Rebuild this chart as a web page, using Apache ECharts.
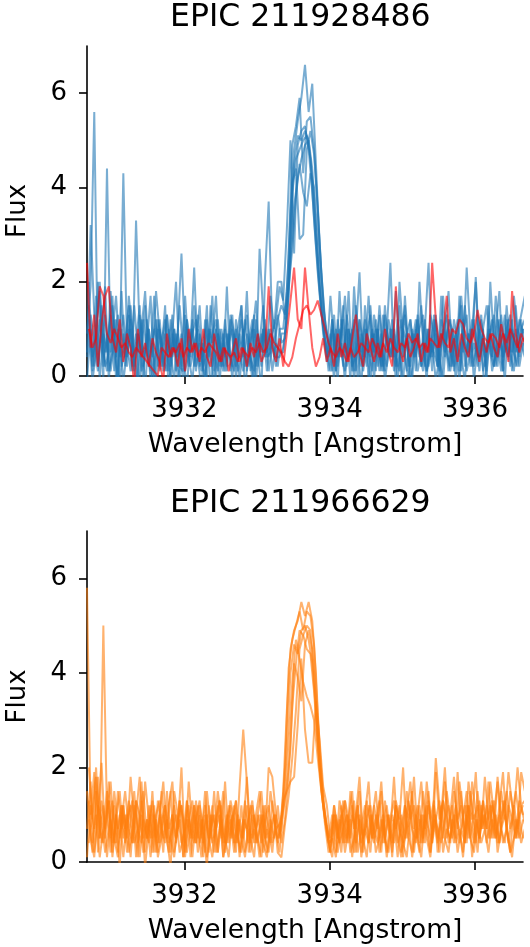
<!DOCTYPE html>
<html>
<head>
<meta charset="utf-8">
<script src="https://cdn.jsdelivr.net/npm/echarts@6/dist/echarts.min.js"></script>
<style>
  html, body { margin: 0; padding: 0; background: #fff; }
  #chart { width: 530px; height: 947px; }
</style>
</head>
<body>
<div id="chart"></div>
<script>
// Wavelength grids of the extracted Ca II K spectra [Angstrom];
// alternate epochs were resampled half a pixel apart.
const wavelengthA = [
  3930.66, 3930.71, 3930.76, 3930.81, 3930.86, 3930.91, 3930.96, 3931.01, 3931.06, 3931.11,
  3931.16, 3931.21, 3931.26, 3931.31, 3931.36, 3931.41, 3931.46, 3931.51, 3931.56, 3931.61,
  3931.66, 3931.71, 3931.76, 3931.81, 3931.86, 3931.91, 3931.96, 3932.01, 3932.06, 3932.11,
  3932.16, 3932.21, 3932.26, 3932.31, 3932.36, 3932.41, 3932.46, 3932.51, 3932.56, 3932.61,
  3932.66, 3932.71, 3932.76, 3932.81, 3932.86, 3932.91, 3932.96, 3933.01, 3933.06, 3933.11,
  3933.16, 3933.21, 3933.26, 3933.31, 3933.36, 3933.41, 3933.46, 3933.51, 3933.56, 3933.61,
  3933.66, 3933.71, 3933.76, 3933.81, 3933.86, 3933.91, 3933.96, 3934.01, 3934.06, 3934.11,
  3934.16, 3934.21, 3934.26, 3934.31, 3934.36, 3934.41, 3934.46, 3934.51, 3934.56, 3934.61,
  3934.66, 3934.71, 3934.76, 3934.81, 3934.86, 3934.91, 3934.96, 3935.01, 3935.06, 3935.11,
  3935.16, 3935.21, 3935.26, 3935.31, 3935.36, 3935.41, 3935.46, 3935.51, 3935.56, 3935.61,
  3935.66, 3935.71, 3935.76, 3935.81, 3935.86, 3935.91, 3935.96, 3936.01, 3936.06, 3936.11,
  3936.16, 3936.21, 3936.26, 3936.31, 3936.36, 3936.41, 3936.46, 3936.51, 3936.56, 3936.61,
  3936.66
];
const wavelengthB = [
  3930.685, 3930.735, 3930.785, 3930.835, 3930.885, 3930.935, 3930.985, 3931.035, 3931.085, 3931.135,
  3931.185, 3931.235, 3931.285, 3931.335, 3931.385, 3931.435, 3931.485, 3931.535, 3931.585, 3931.635,
  3931.685, 3931.735, 3931.785, 3931.835, 3931.885, 3931.935, 3931.985, 3932.035, 3932.085, 3932.135,
  3932.185, 3932.235, 3932.285, 3932.335, 3932.385, 3932.435, 3932.485, 3932.535, 3932.585, 3932.635,
  3932.685, 3932.735, 3932.785, 3932.835, 3932.885, 3932.935, 3932.985, 3933.035, 3933.085, 3933.135,
  3933.185, 3933.235, 3933.285, 3933.335, 3933.385, 3933.435, 3933.485, 3933.535, 3933.585, 3933.635,
  3933.685, 3933.735, 3933.785, 3933.835, 3933.885, 3933.935, 3933.985, 3934.035, 3934.085, 3934.135,
  3934.185, 3934.235, 3934.285, 3934.335, 3934.385, 3934.435, 3934.485, 3934.535, 3934.585, 3934.635,
  3934.685, 3934.735, 3934.785, 3934.835, 3934.885, 3934.935, 3934.985, 3935.035, 3935.085, 3935.135,
  3935.185, 3935.235, 3935.285, 3935.335, 3935.385, 3935.435, 3935.485, 3935.535, 3935.585, 3935.635,
  3935.685, 3935.735, 3935.785, 3935.835, 3935.885, 3935.935, 3935.985, 3936.035, 3936.085, 3936.135,
  3936.185, 3936.235, 3936.285, 3936.335, 3936.385, 3936.435, 3936.485, 3936.535, 3936.585, 3936.635,
  3936.685
];

const xTicks = [3932, 3934, 3936];
const yTicks = [0, 2, 4, 6];

// EPIC 211928486 — active-state spectra (blue)
const star1_b1 = [
  0.9, 1.9, 5.6, 0.2, 1.5, 0.5, 1.0, 1.7, -0.1, 0.7,
  1.3, 0.4, 1.0, 0.1, 0.9, 0.5, 1.5, 0.2, 0.7, -0.1,
  1.0, 0.4, 0.1, 1.2, 0.5, 0.9, 0.2, 1.3, 0.4, -0.1,
  0.7, 1.5, 0.2, 0.5, 1.0, 0.1, 0.9, 0.4, 1.2, 0.5,
  0.2, 1.0, -0.1, 0.7, 1.3, 0.4, 0.1, 0.9, 0.5, 1.2,
  0.4, 0.9, 0.2, 1.0, 1.0, 1.8, 3.5, 4.8, 5.4, 5.9,
  6.6, 5.6, 6.2, 4.5, 2.8, 1.5, 0.9, 0.5, 1.3, 0.2,
  0.9, 1.7, 0.4, 1.0, 0.1, 1.2, 0.7, 0.2, 1.5, 0.5,
  1.0, 0.1, 1.3, 0.7, 0.4, 1.8, 0.5, -0.1, 0.9, 1.2,
  0.4, 0.7, 1.5, 0.2, 1.0, 0.5, 1.2, 0.1, 0.9, 1.3,
  0.5, 0.2, 1.0, 1.7, 0.7, 0.4, 1.2, 0.9, 0.1, 1.0,
  1.5, 0.5, 0.2, 1.2, 0.7, 1.3, 0.4, 1.0, 0.5, 1.2,
  0.9
];
const star1_b2 = [
  2.0, 0.1, 1.0, 1.8, -0.1, 4.4, 0.5, 1.2, -0.3, 1.8,
  0.2, 1.7, 0.9, -0.4, 1.3, 0.4, 0.7, 1.7, -0.1, 1.0,
  0.5, 1.5, -0.4, 0.9, 2.0, 0.2, 0.1, 1.2, 0.7, 2.3,
  0.4, -0.3, 1.2, 0.5, 1.7, -0.1, 1.0, 0.2, 1.9, 0.1,
  0.9, 0.4, 1.5, -0.4, 0.7, 1.2, 0.2, 2.7, 1.3, 0.5,
  1.7, 1.0, 2.0, 2.0, 1.2, 2.5, 4.9, 5.3, 5.9, 4.3,
  5.4, 5.5, 4.8, 3.6, 2.2, 1.2, 0.5, 1.2, 0.1, 1.8,
  0.4, 1.0, -0.1, 1.9, 0.7, -0.3, 1.5, 0.5, 1.0, 0.1,
  1.3, 0.2, 0.9, 2.4, 0.4, 1.2, -0.1, 1.7, 0.5, 1.0,
  0.1, 2.0, 0.7, -0.1, 1.3, 0.9, 0.2, 1.7, 0.4, 1.2,
  1.0, -0.1, 1.7, 0.5, 2.3, 0.9, 0.2, 1.3, 0.7, -0.4,
  1.5, 0.4, 1.0, 1.8, 0.1, 1.2, 0.5, 1.7, 0.9, 1.3,
  1.7
];
const star1_b3 = [
  0.5, 3.2, 1.3, 0.2, 1.0, 1.9, -0.1, 0.9, 1.7, 0.4,
  4.3, 0.7, 0.1, 1.5, 0.5, 1.2, -0.3, 1.0, 0.4, 1.8,
  0.9, 0.1, 1.3, 0.5, -0.1, 1.0, 2.6, 0.7, 0.2, 1.2,
  0.1, 0.9, 0.4, 1.5, -0.4, 0.7, 1.2, 0.2, 1.0, 0.5,
  1.3, -0.1, 0.9, 0.4, 1.8, 0.1, 1.0, 0.5, -0.3, 2.1,
  3.7, 0.9, 1.2, 1.9, 1.6, 3.1, 5.0, 2.6, 4.9, 5.2,
  5.3, 4.8, 3.9, 2.8, 1.8, 1.0, 0.4, 1.7, 0.7, -0.1,
  1.2, 0.5, 1.8, 0.1, 0.9, 2.2, 0.4, 1.0, -0.3, 1.3,
  0.7, 0.2, 1.5, 0.5, 1.0, -0.1, 2.0, 0.9, 0.1, 1.2,
  0.5, 1.3, 0.2, 1.0, 2.4, 0.4, 0.9, -0.1, 1.7, 0.7,
  0.2, 1.2, 0.7, 0.1, 1.5, 0.5, 1.0, 2.0, 0.4, 0.9,
  -0.1, 2.0, 0.7, 0.2, 1.3, 0.5, 1.0, 0.1, 1.5, 0.4,
  1.0
];
const star1_b4 = [
  1.5, 0.4, 0.9, 2.0, 0.5, 0.1, 1.8, 0.7, -0.1, 1.0,
  0.4, 1.3, 0.2, 3.3, 0.9, -0.1, 1.2, 0.5, 1.7, 0.2,
  0.7, 1.2, 0.1, 0.9, 0.4, 1.5, 0.5, -0.3, 1.0, 0.2,
  1.3, 0.5, -0.1, 1.0, 0.7, 1.7, 0.2, 0.9, 0.1, 1.2,
  0.4, 1.0, 1.5, 0.2, 0.7, -0.1, 1.2, 0.5, 1.0, 0.1,
  0.9, 0.4, 1.3, 0.7, 0.8, 1.7, 4.1, 4.4, 2.9, 3.0,
  4.8, 5.2, 4.7, 3.5, 2.2, 1.1, 0.7, 0.1, 1.0, 0.4,
  1.5, 0.2, 0.7, 1.2, -0.1, 0.9, 0.4, 1.7, 0.5, 1.0,
  0.1, 1.3, 0.7, 0.4, 1.0, -0.1, 0.9, 1.5, 0.2, 0.7,
  1.2, 0.5, 0.1, 1.0, 0.4, 1.3, 0.7, -0.1, 0.9, 1.8,
  0.4, 0.9, 0.1, 1.2, 0.5, 1.0, -0.1, 0.7, 1.3, 0.2,
  0.9, 0.4, 1.7, 0.7, 0.1, 1.0, 1.3, 0.5, 0.2, 1.0,
  1.2
];
const star1_b5 = [
  -0.1, 1.0, 0.2, 2.0, 0.7, 1.3, 0.1, 0.5, 1.2, -0.3,
  0.9, 0.2, 1.5, 0.5, -0.1, 1.0, 1.8, 0.4, 0.7, 1.2,
  0.1, 0.7, 1.3, 0.2, 1.0, -0.1, 0.5, 1.7, 0.4, 0.9,
  1.2, 0.2, 0.7, -0.1, 1.5, 0.5, 0.1, 1.0, 0.4, 0.9,
  -0.1, 1.2, 0.5, 1.0, 0.1, 0.7, 1.3, 0.2, 0.9, 0.4,
  1.0, 0.1, 0.7, 0.5, 0.5, 1.3, 2.7, 4.5, 5.1, 5.0,
  5.2, 5.0, 4.2, 3.0, 1.9, 0.9, 0.3, 0.9, -0.1, 1.2,
  0.5, 0.1, 1.0, 0.4, 1.5, 0.7, 0.2, 0.9, 1.3, -0.1,
  1.0, 0.5, 0.1, 1.2, 0.7, 0.2, 1.5, 0.4, 0.9, -0.3,
  0.7, 1.2, 0.2, 0.5, 1.0, 0.1, 1.3, 0.4, -0.1, 0.9,
  1.2, 0.1, 0.7, 1.5, 0.2, 0.9, 0.5, 2.1, 0.4, 1.0,
  0.1, 0.9, 1.3, 0.4, 0.7, -0.1, 1.2, 0.5, 1.0, 0.2,
  0.7
];
const star1_b6 = [
  1.2, 0.2, 1.7, -0.1, 0.9, 0.5, 1.3, 0.1, 1.0, 0.4,
  0.7, 1.5, 0.4, 0.9, -0.3, 1.2, 0.5, 0.1, 1.0, 0.7,
  0.2, 0.9, 0.5, 1.3, 0.1, 0.7, -0.1, 1.0, 0.4, 1.5,
  0.5, 0.1, 1.0, 0.4, 0.9, 1.2, -0.1, 0.7, 0.2, 1.3,
  0.9, 0.1, 0.4, 1.2, 0.5, 1.0, -0.1, 0.7, 1.5, 0.4,
  0.5, 1.2, 0.2, 0.9, 0.9, 2.1, 3.9, 4.6, 4.8, 5.0,
  5.1, 4.6, 3.3, 2.2, 1.3, 0.8, 0.1, 1.2, 0.5, 1.0,
  0.2, 1.3, 0.7, 0.1, 1.0, 0.5, 1.2, -0.1, 0.9, 0.4,
  1.5, 0.5, 0.2, 1.0, 0.1, 0.7, 1.2, 0.4, -0.1, 0.9,
  0.4, 1.0, 1.3, 0.1, 0.7, 0.5, 0.2, 1.2, 0.9, 0.1,
  1.0, 0.5, -0.1, 0.9, 1.3, 0.2, 0.7, 0.4, 1.2, 0.5,
  0.7, 1.2, 0.2, 0.9, 0.4, 1.5, 0.5, 0.1, 1.0, 0.7,
  0.4
];
const star1_b7 = [
  0.4, 1.3, 0.7, 0.1, 1.0, 0.2, 0.5, 1.5, 0.4, 0.9,
  -0.1, 0.5, 1.2, 0.2, 0.9, 0.1, 0.4, 1.0, -0.1, 0.5,
  1.2, 0.2, 0.7, -0.1, 1.0, 0.4, 0.9, 0.1, 0.5, 1.0,
  0.2, 0.7, 0.1, 1.2, 0.4, -0.1, 0.9, 0.5, 0.1, 0.7,
  1.0, 0.2, 0.5, 0.1, 0.9, 0.4, -0.1, 0.7, 0.2, 1.0,
  0.1, 0.7, 0.4, 0.4, 0.6, 1.2, 2.4, 3.6, 4.2, 4.6,
  4.9, 5.0, 4.4, 3.2, 2.0, 1.1, 0.5, 0.1, 0.9, 0.4,
  0.7, -0.1, 1.0, 0.2, 0.5, 1.2, 0.1, 0.7, 0.4, 0.9,
  0.2, 0.9, -0.1, 0.5, 1.2, 0.4, 0.1, 1.0, 0.7, 0.2,
  0.9, 0.1, 0.5, 1.2, 0.2, 0.7, -0.1, 0.4, 1.0, 0.5,
  0.1, 0.7, 1.2, 0.4, -0.1, 0.9, 0.2, 0.5, 1.0, 0.1,
  0.5, 1.0, 0.2, 0.7, 0.1, 0.9, 0.4, 1.2, 0.2, 0.7,
  1.0
];
const star1_b8 = [
  1.0, -0.1, 0.5, 1.2, 0.2, 0.9, 0.1, 0.7, 1.3, 0.2,
  0.5, 1.0, 0.1, 0.7, 1.5, 0.2, 0.9, -0.1, 0.4, 1.2,
  0.7, 0.1, 1.0, 0.4, 0.9, -0.1, 0.5, 1.2, 0.2, 0.7,
  1.0, 0.4, -0.1, 0.9, 0.2, 1.0, 0.5, 0.1, 0.9, 0.4,
  0.1, 0.7, 1.2, 0.5, 0.2, 0.9, 1.6, 0.4, 1.0, 0.5,
  1.0, 0.7, 1.2, 1.5, 1.3, 1.9, 2.7, 3.8, 4.5, 3.9,
  3.6, 4.3, 4.0, 2.9, 1.6, 0.8, 0.4, 1.0, 0.1, 0.7,
  1.2, 0.4, 0.9, -0.1, 0.7, 0.2, 1.0, 0.5, 0.1, 1.2,
  0.5, 0.1, 1.0, 0.4, 0.9, 0.2, 0.7, 1.3, 0.4, -0.1,
  1.0, 0.4, 0.7, 0.1, 0.5, 1.2, 0.2, 0.9, 0.5, 1.0,
  0.2, 0.9, 0.4, 1.0, 0.1, 0.5, 1.2, 0.2, 0.7, 0.4,
  1.0, 0.1, 0.5, 1.2, 0.4, 0.7, 0.2, 0.9, 0.5, 1.2,
  0.5
];

// EPIC 211928486 — quiet-state spectra (red)
const star1_r1 = [
  2.4, 0.6, 1.3, 0.2, 1.1, 1.7, 1.9, 0.8, 0.5, 1.2,
  0.3, 0.9, 0.6, -0.2, 1.0, 0.4, 0.7, 0.2, 0.8, 0.5,
  0.3, -0.1, 0.9, 0.4, 0.6, 0.2, 0.8, 0.1, 1.0, 0.5,
  0.7, 0.3, 1.0, 0.4, 0.2, 0.9, 0.5, 0.3, 0.6, 0.1,
  0.5, 0.8, 0.3, 0.6, 0.2, 0.7, 0.4, 0.9, 0.3, 0.5,
  1.9, 0.6, 0.3, 0.8, 0.2, 0.9, 1.6, 2.3, 1.2, 1.0,
  2.3, 1.4, 0.6, 0.2, 0.4, 0.8, 0.3, 0.6, 0.2, 0.9,
  0.4, 0.7, 0.3, 0.8, 1.3, 0.5, 0.2, 0.9, 0.6, 0.3,
  0.7, 0.4, 1.0, 0.5, 0.2, 1.9, 0.6, 0.3, 0.8, 0.4,
  0.6, 0.9, 0.3, 0.7, 0.5, 2.4, 1.2, 0.6, 0.9, 1.7,
  0.5, 0.8, 0.3, 0.9, 0.6, 0.4, 1.0, 0.7, 0.3, 0.8,
  0.5, 0.9, 0.6, 0.4, 1.1, 0.7, 0.3, 1.8, 0.9, 0.5,
  0.8
];
const star1_r2 = [
  1.0, 0.6, 0.8, 1.9, 1.7, 0.9, 0.7, 1.0, 0.8, 0.6,
  0.7, 0.5, 0.4, 0.6, 0.5, 0.4, 0.3, 0.2, 0.1, 0.0,
  0.6, 0.5, 0.4, 0.6, 0.5, 0.7, 0.4, 0.6, 0.5, 0.7,
  0.4, 0.6, 0.5, 0.7, 0.6, 0.5, 0.3, 0.6, 0.5, 0.4,
  0.5, 0.3, 0.6, 0.5, 0.4, 0.6, 0.5, 0.7, 0.5, 0.6,
  0.9, 0.7, 0.6, 0.5, 0.3, 0.2, 0.4, 0.8, 1.1, 1.4,
  1.5, 1.3, 1.4, 1.6, 1.3, 1.0, 0.7, 0.5, 0.4, 0.6,
  0.5, 0.3, 0.6, 0.4, 0.5, 0.7, 0.6, 0.5, 0.8, 0.6,
  0.4, 0.7, 0.5, 0.8, 0.6, 0.5, 0.7, 0.6, 0.9, 0.7,
  0.8, 0.6, 0.7, 0.5, 0.8, 0.7, 0.6, 0.9, 0.7, 0.6,
  1.0, 0.9, 1.2, 1.1, 0.8, 0.7, 0.9, 1.4, 1.0, 0.8,
  0.7, 0.9, 0.8, 0.6, 0.9, 0.7, 1.0, 0.8, 0.6, 0.9,
  0.7
];

// EPIC 211966629 — all epochs (orange)
const star2_o1 = [
  5.8, 1.0, 1.9, 0.2, 1.3, 0.7, 1.7, 0.4, 1.0, -0.1,
  1.2, 0.5, 1.8, 0.9, 0.1, 1.3, 0.7, 0.4, 1.5, 0.2,
  1.0, 1.7, 0.5, -0.1, 1.2, 0.7, 2.0, 0.2, 0.9, 1.3,
  0.4, 1.0, 0.1, 1.5, 0.7, 0.2, 1.2, 0.5, 1.7, 0.4,
  0.9, 1.3, 0.2, 0.7, 1.8, 0.5, 0.1, 1.0, 0.4, 1.2,
  0.7, 0.2, 1.0, 0.5, 1.5, 3.2, 4.5, 4.9, 5.1, 5.5,
  5.2, 5.5, 5.1, 4.0, 2.4, 1.3, 0.8, 0.4, 1.2, 0.7,
  0.2, 1.3, 0.9, 0.1, 1.0, 1.8, 0.5, 0.9, 0.2, 1.2,
  0.7, 1.5, 0.4, 1.0, 0.1, 1.3, 0.9, 2.0, 0.5, 1.2,
  0.2, 1.0, 1.7, 0.7, 1.2, 0.4, 1.9, 0.9, 1.3, 0.5,
  1.0, 1.8, 0.7, 1.5, 0.4, 1.2, 0.9, 1.9, 0.5, 1.3,
  0.7, 1.7, 1.0, 0.4, 1.5, 0.9, 1.9, 1.2, 0.5, 1.3,
  1.0
];
const star2_o2 = [
  2.0, 0.9, 2.0, 0.5, 5.0, 1.0, 0.2, 1.5, 0.7, 1.2,
  0.4, 1.0, 1.3, 0.1, 0.9, 1.5, 0.5, 1.0, 0.2, 1.3,
  0.7, 0.4, 1.2, 1.7, 0.5, 0.9, 0.1, 1.3, 0.7, 0.4,
  1.2, 0.5, 1.5, 0.2, 1.0, 0.7, 1.3, 0.1, 0.9, 1.2,
  0.4, 0.9, 0.5, 1.3, 0.2, 1.0, 0.7, 0.1, 1.2, 0.5,
  1.5, 0.9, 0.4, 0.9, 2.0, 4.1, 4.7, 5.0, 5.3, 4.9,
  5.3, 5.2, 4.6, 3.1, 1.9, 1.0, 0.5, 1.0, 0.2, 1.3,
  0.9, 0.4, 1.5, 0.7, 1.2, 0.2, 1.0, 1.7, 0.5, 0.9,
  1.3, 0.4, 1.0, 0.7, 1.8, 0.5, 0.1, 1.2, 0.9, 1.5,
  0.5, 1.2, 0.4, 1.7, 0.9, 1.3, 0.2, 1.0, 2.0, 0.7,
  1.2, 0.5, 1.7, 1.0, 0.4, 1.5, 0.9, 1.2, 0.7, 1.8,
  0.9, 1.3, 0.5, 1.2, 1.9, 0.7, 1.5, 1.0, 2.0, 1.2,
  1.3
];
const star2_o3 = [
  0.7, 1.7, 0.2, 1.0, 2.1, 0.5, 1.3, 0.1, 0.9, 1.5,
  0.5, 1.0, 0.1, 1.2, 0.7, 0.4, 1.7, 0.9, 0.2, 1.0,
  1.3, 0.5, 0.9, 0.2, 1.5, 1.0, 0.4, 0.7, 1.2, 0.1,
  0.9, 1.3, 0.4, 1.0, 0.5, 1.5, 0.2, 0.9, 0.4, 1.2,
  0.7, 0.2, 1.6, 2.8, 1.7, 0.4, 1.0, 0.5, 0.1, 0.9,
  1.2, 0.4, 0.7, 0.2, 1.2, 2.5, 4.0, 4.6, 4.4, 4.9,
  5.0, 4.7, 4.2, 3.2, 2.0, 1.2, 0.7, 0.2, 1.0, 0.5,
  1.2, 0.4, 0.9, 1.5, 0.2, 1.0, 0.5, 1.3, 0.7, 0.4,
  0.9, 1.7, 0.5, 1.0, 0.2, 1.2, 0.7, 0.4, 1.5, 0.9,
  1.8, 0.5, 1.0, 0.4, 1.3, 0.7, 2.2, 1.2, 0.5, 1.5,
  0.9, 0.4, 1.9, 0.7, 1.2, 0.5, 1.7, 1.0, 0.4, 1.3,
  0.7, 1.2, 0.5, 1.8, 0.9, 1.3, 0.4, 1.0, 1.5, 0.9,
  0.5
];
const star2_o4 = [
  1.3, 0.4, 1.0, 0.1, 0.7, 1.5, 0.5, 1.2, 0.2, 0.9,
  1.5, 0.7, 0.4, 1.3, 1.0, 0.2, 0.9, 0.5, 1.2, 0.1,
  0.5, 1.2, 0.7, 1.0, 0.4, 1.3, 0.9, 0.2, 0.7, 1.2,
  0.2, 0.7, 1.2, 0.5, 0.1, 0.9, 1.3, 0.4, 1.0, 0.5,
  1.2, 0.5, 0.2, 0.9, 0.4, 1.2, 0.7, 1.0, 0.2, 0.7,
  0.4, 1.0, 0.5, 0.7, 1.4, 2.6, 3.8, 4.7, 4.3, 3.8,
  3.5, 3.3, 3.0, 2.2, 1.5, 0.9, 0.4, 0.1, 0.9, 0.4,
  0.7, 1.0, 0.2, 0.5, 1.2, 0.1, 0.7, 0.4, 1.0, 0.2,
  0.5, 0.9, 0.1, 0.7, 0.4, 1.0, 0.2, 0.5, 0.9, 0.1,
  0.7, 0.2, 1.0, 0.5, 0.1, 0.9, 0.4, 1.2, 0.5, 0.2,
  0.9, 0.4, 0.7, 0.1, 1.0, 0.5, 0.2, 0.9, 0.4, 0.7,
  0.2, 0.9, 0.5, 1.0, 0.4, 0.7, 0.2, 0.5, 0.9, 0.4,
  0.7
];
const star2_o5 = [
  0.1, 1.2, 0.7, 1.8, 0.4, 0.9, 1.3, 0.2, 1.0, 0.5,
  1.2, 0.2, 0.9, 1.5, 0.4, 1.0, -0.1, 0.7, 1.3, 0.5,
  1.0, 0.2, 1.5, 0.5, 0.1, 0.9, 1.2, 0.4, 1.7, 0.7,
  0.4, 1.2, 0.7, -0.1, 1.0, 0.5, 1.5, 0.9, 0.2, 1.0,
  0.5, 1.3, 0.1, 0.9, 0.7, 1.2, 0.4, 1.0, 1.5, 0.5,
  2.0, 1.8, 1.0, 0.6, 1.3, 1.5, 1.7, 1.8, 2.9, 4.3,
  2.8, 2.1, 2.1, 3.4, 2.6, 1.6, 1.2, 0.5, 1.0, 0.2,
  0.9, 1.3, 0.4, 1.0, 0.7, 1.5, 0.2, 0.9, 1.2, 0.5,
  1.0, 0.2, 1.3, 0.7, 0.4, 1.2, 0.9, 0.1, 1.0, 1.7,
  0.7, 1.2, 0.4, 0.9, 1.5, 0.5, 1.0, 0.2, 1.3, 0.9,
  0.4, 1.5, 0.9, 1.2, 0.5, 1.7, 1.0, 0.4, 1.3, 0.7,
  1.2, 0.5, 1.0, 1.7, 0.7, 0.4, 1.2, 0.9, 0.5, 1.0,
  1.2
];
const star2_o6 = [
  0.9, 0.2, 1.5, 0.7, 0.4, 1.0, 1.7, 0.5, 0.1, 1.2,
  0.7, 1.3, 0.4, 1.0, 1.8, 0.5, 0.9, 0.1, 1.0, 0.4,
  1.5, 0.7, 0.2, 1.0, 0.5, 1.3, 0.1, 0.9, 0.5, 1.2,
  0.7, 0.1, 1.0, 0.5, 1.2, 0.2, 0.7, 1.5, 0.4, 0.9,
  0.2, 1.0, 0.5, 0.1, 0.9, 1.3, 0.4, 0.7, 1.0, 0.2,
  0.9, 0.5, 1.2, 0.4, 0.9, 1.9, 3.3, 4.2, 4.9, 4.8,
  4.5, 4.4, 3.6, 2.5, 1.5, 0.9, 0.4, 0.5, 0.1, 0.9,
  0.4, 1.0, 0.5, 1.3, 0.2, 0.7, 1.2, 0.4, 0.9, 1.5,
  0.5, 1.0, 0.2, 0.9, 1.3, 0.4, 0.7, 1.2, 0.5, 0.2,
  1.0, 0.4, 1.5, 0.7, 0.2, 1.2, 0.5, 0.9, 1.7, 0.4,
  0.7, 1.2, 0.4, 0.9, 1.5, 0.5, 1.0, 0.2, 1.2, 0.7,
  1.7, 0.5, 1.0, 0.4, 1.3, 0.7, 0.2, 1.2, 0.7, 1.9,
  1.5
];
const star2_o7 = [
  1.5, 0.5, 0.1, 1.2, 0.9, 0.2, 0.7, 1.3, 0.4, 1.0,
  0.1, 0.9, 1.2, 0.4, 0.7, 1.7, 0.2, 1.2, 0.5, 0.9,
  0.4, 1.0, 0.5, 1.5, 0.2, 0.7, 1.2, 0.1, 0.9, 0.5,
  1.3, 0.4, 0.9, 0.1, 0.7, 1.0, 0.2, 1.2, 0.5, 0.1,
  1.0, 0.4, 0.9, 0.5, 1.2, 0.2, 0.7, 0.4, 1.0, 0.5,
  0.2, 1.3, 0.7, 0.8, 1.1, 1.6, 2.4, 4.2, 3.9, 3.4,
  4.6, 4.9, 4.5, 3.4, 2.1, 1.3, 0.7, 0.2, 1.2, 0.5,
  1.0, 0.2, 0.7, 1.2, 0.4, 0.9, 0.5, 0.1, 1.0, 0.7,
  0.4, 0.9, 0.5, 0.2, 1.0, 0.7, 1.2, 0.4, 0.1, 0.9,
  1.2, 0.5, 0.1, 1.0, 0.7, 0.4, 0.9, 1.3, 0.2, 0.7,
  0.5, 1.0, 0.2, 0.7, 0.4, 1.2, 0.1, 0.9, 0.5, 1.0,
  0.4, 0.9, 1.3, 0.2, 0.7, 1.0, 0.5, 0.1, 0.9, 0.5,
  0.9
];
const star2_o8 = [
  0.4, 1.0, 1.8, 0.5, 1.2, 0.1, 0.9, 0.4, 1.5, 0.7,
  1.0, 0.2, 0.7, 1.3, 0.1, 0.9, 0.5, 1.2, 0.7, 0.2,
  0.9, 1.2, 0.4, 0.7, 1.0, 0.2, 0.5, 1.3, 0.1, 1.0,
  0.5, 0.9, 0.2, 1.2, 0.4, 0.7, 1.0, 0.1, 0.5, 1.3,
  0.9, 0.4, 1.2, 0.2, 0.7, 0.5, 1.0, 1.5, 0.4, 0.1,
  0.7, 1.0, 0.2, 0.1, 0.8, 1.4, 2.2, 3.2, 4.5, 4.8,
  5.0, 4.9, 4.0, 2.6, 1.6, 0.8, 0.2, 0.5, 1.0, 0.4,
  1.3, 0.5, 0.9, 0.2, 1.0, 0.4, 0.7, 1.2, 0.5, 1.0,
  0.2, 0.7, 1.2, 0.5, 0.9, 0.1, 1.0, 0.5, 1.3, 0.7,
  0.4, 0.9, 0.5, 1.2, 0.2, 1.0, 0.7, 0.4, 0.9, 1.2,
  0.5, 1.0, 0.7, 0.2, 1.2, 0.9, 0.4, 1.5, 0.7, 1.0,
  0.5, 1.2, 0.9, 0.4, 1.0, 1.5, 0.7, 1.0, 0.5, 1.2,
  0.8
];

// Each epoch paired with the grid it was sampled on
const star1Blue = [
  [star1_b1, wavelengthA], [star1_b2, wavelengthB], [star1_b3, wavelengthA], [star1_b4, wavelengthB],
  [star1_b5, wavelengthA], [star1_b6, wavelengthB], [star1_b7, wavelengthA], [star1_b8, wavelengthB]
];
const star1Red = [[star1_r1, wavelengthA], [star1_r2, wavelengthB]];
const star2Orange = [
  [star2_o1, wavelengthA], [star2_o2, wavelengthB], [star2_o3, wavelengthA], [star2_o4, wavelengthB],
  [star2_o5, wavelengthA], [star2_o6, wavelengthB], [star2_o7, wavelengthA], [star2_o8, wavelengthB]
];

const FONT = 'DejaVu Sans';
const BLUE = '#1f77b4';
const RED = '#ff0000';
const ORANGE = '#ff7f0e';

function spectrum(entry, color, gridIndex) {
  const flux = entry[0];
  const grid = entry[1];
  return {
    type: 'line',
    xAxisIndex: gridIndex,
    yAxisIndex: gridIndex,
    data: grid.map((w, i) => [w, flux[i]]),
    showSymbol: false,
    clip: true,
    silent: true,
    lineStyle: { color: color, width: 2, opacity: 0.6 },
    itemStyle: { color: color }
  };
}

function xAxisFor(gridIndex) {
  return {
    type: 'value',
    gridIndex: gridIndex,
    min: 3930.66,
    max: 3936.66,
    name: 'Wavelength [Angstrom]',
    nameLocation: 'middle',
    nameGap: 56,
    nameTextStyle: { fontFamily: FONT, fontSize: 26.5, color: '#000' },
    axisLine: { show: true, onZero: false, lineStyle: { color: '#000', width: 1.6 } },
    axisTick: { show: true, customValues: xTicks, length: 8, lineStyle: { color: '#000', width: 1.6 } },
    axisLabel: {
      show: true, customValues: xTicks, margin: 21,
      fontFamily: FONT, fontSize: 26, color: '#000',
      formatter: v => String(v)
    },
    splitLine: { show: false }
  };
}

function yAxisFor(gridIndex) {
  return {
    type: 'value',
    gridIndex: gridIndex,
    min: 0,
    max: 7,
    name: 'Flux',
    nameLocation: 'middle',
    nameGap: 56,
    nameTextStyle: { fontFamily: FONT, fontSize: 26, color: '#000' },
    axisLine: { show: true, lineStyle: { color: '#000', width: 1.6 } },
    axisTick: { show: true, customValues: yTicks, length: 8, lineStyle: { color: '#000', width: 1.6 } },
    axisLabel: {
      show: true, customValues: yTicks, margin: 20,
      fontFamily: FONT, fontSize: 26, color: '#000',
      formatter: v => String(v)
    },
    splitLine: { show: false }
  };
}

const chart = echarts.init(document.getElementById('chart'), null, { renderer: 'canvas' });

const series = [];
star1Blue.forEach(e => series.push(spectrum(e, BLUE, 0)));
star1Red.forEach(e => series.push(spectrum(e, RED, 0)));
star2Orange.forEach(e => series.push(spectrum(e, ORANGE, 1)));

chart.setOption({
  animation: false,
  backgroundColor: '#fff',
  title: [
    { text: 'EPIC 211928486', left: 170, top: 2, padding: 0,
      textStyle: { fontFamily: FONT, fontSize: 31.5, fontWeight: 'normal', color: '#000' } },
    { text: 'EPIC 211966629', left: 170, top: 488, padding: 0,
      textStyle: { fontFamily: FONT, fontSize: 31.5, fontWeight: 'normal', color: '#000' } }
  ],
  grid: [
    { left: 87, right: 7, top: 46, height: 330, containLabel: false, outerBoundsMode: 'none' },
    { left: 87, right: 7, top: 531, height: 331, containLabel: false, outerBoundsMode: 'none' }
  ],
  xAxis: [xAxisFor(0), xAxisFor(1)],
  yAxis: [yAxisFor(0), yAxisFor(1)],
  series: series
});
</script>
</body>
</html>
